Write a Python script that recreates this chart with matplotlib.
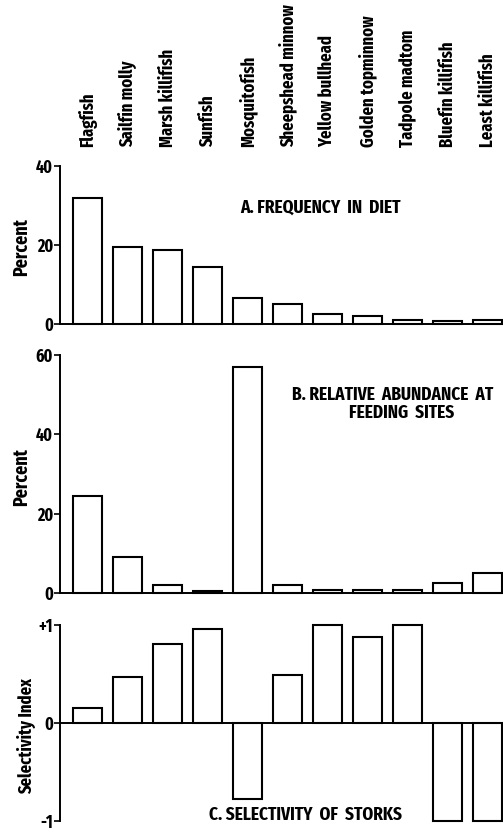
import matplotlib
matplotlib.use("Agg")
import matplotlib.pyplot as plt
from matplotlib import font_manager
from matplotlib.transforms import blended_transform_factory

fish = ["Flagfish", "Sailfin molly", "Marsh killifish", "Sunfish", "Mosquitofish",
        "Sheepshead minnow", "Yellow bullhead", "Golden topminnow", "Tadpole madtom",
        "Bluefin killifish", "Least killifish"]
diet = [32, 19.6, 18.7, 14.5, 6.5, 5.0, 2.5, 1.9, 1.0, 0.7, 1.0]
abundance = [24.5, 9.2, 2.1, 0.5, 57, 2.0, 0.7, 0.8, 0.8, 2.5, 5.0]
selectivity = [0.15, 0.47, 0.81, 0.96, -0.78, 0.49, 1.0, 0.88, 1.0, -1.0, -1.0]

names = {f.name for f in font_manager.fontManager.ttflist}
if "Fira Sans Extra Condensed" in names:
    plt.rcParams["font.family"] = ["Fira Sans Extra Condensed", "DejaVu Sans"]
else:
    plt.rcParams["font.family"] = ["DejaVu Sans"]
    plt.rcParams["font.stretch"] = "condensed"
plt.rcParams["font.weight"] = "bold"

W, H = 503, 832
fig = plt.figure(figsize=(W / 100, H / 100), dpi=100)

x0, x1 = 60, 508          # axes left/right in pixels
c0, step = 87.5, 40.0     # first bar centre, bar spacing in pixels
xlim = ((x0 - c0) / step, (x1 - c0) / step)


def make_axes(ptop, pbot):
    return fig.add_axes([x0 / W, 1 - pbot / H, (x1 - x0) / W, (pbot - ptop) / H])


def style(ax, ylim, bounds, ticks, labels):
    ax.set_xlim(*xlim)
    ax.set_ylim(*ylim)
    for s in ("top", "right"):
        ax.spines[s].set_visible(False)
    ax.spines["bottom"].set_position(("data", 0))
    ax.spines["left"].set_bounds(*bounds)
    for s in ("left", "bottom"):
        ax.spines[s].set_linewidth(1.4)
    ax.set_xticks([])
    ax.set_yticks(ticks)
    ax.set_yticklabels(labels, fontsize=12.5, fontweight="bold")
    ax.tick_params(axis="y", length=4, width=1.2, pad=1)
    ax.patch.set_visible(False)


xs = list(range(len(fish)))
bar_kw = dict(width=0.72, color="white", edgecolor="black", linewidth=1.5, clip_on=False)

# A. frequency in diet
axA = make_axes(166, 324)
axA.bar(xs, diet, **bar_kw)
style(axA, (0, 40), (0, 40), [0, 20, 40], ["0", "20", "40"])
axA.set_ylabel("Percent", fontsize=14, fontweight="bold")
axA.yaxis.set_label_coords(-0.065, 0.487)

# B. relative abundance
axB = make_axes(355, 593)
axB.bar(xs, abundance, **bar_kw)
style(axB, (0, 60), (0, 60), [0, 20, 40, 60], ["0", "20", "40", "60"])
axB.set_ylabel("Percent", fontsize=14, fontweight="bold")
axB.yaxis.set_label_coords(-0.065, 0.487)

# C. selectivity
pu = (820.7 - 625) / 2
axC = make_axes(625 - 0.08 * pu, 820.7 + 0.08 * pu)
axC.bar(xs, selectivity, **bar_kw)
style(axC, (-1.08, 1.08), (-1, 1), [-1, 0, 1], ["-1", "0", "+1"])
axC.set_ylabel("Selectivity Index", fontsize=13, fontweight="bold")
axC.yaxis.set_label_coords(-0.054, 0.44)

# fish names, rotated along the top
tr = blended_transform_factory(axA.transData, fig.transFigure)
for x, name in zip(xs, fish):
    axA.text(x, 1 - 147 / H, name, rotation=90, ha="center", va="bottom",
             fontsize=13, fontweight="bold", transform=tr)

# panel titles
title_kw = dict(fontsize=13.5, fontweight="bold", va="center")
fig.text(240 / W, 1 - 207 / H, "A. FREQUENCY  IN  DIET", ha="left", **title_kw)
fig.text(292 / W, 1 - 395 / H, "B. RELATIVE  ABUNDANCE  AT", ha="left", **title_kw)
fig.text(402 / W, 1 - 413 / H, "FEEDING  SITES", ha="center", **title_kw)
fig.text(209 / W, 1 - 815 / H, "C. SELECTIVITY  OF  STORKS", ha="left", **title_kw)

fig.savefig("out.png", dpi=100)
